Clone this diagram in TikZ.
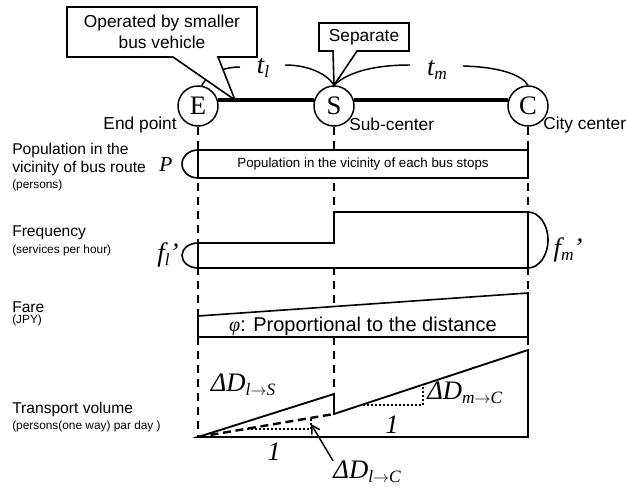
\documentclass[tikz,border=0pt]{standalone}
\usepackage{fontspec}
\setmainfont{Liberation Sans}
\newfontfamily\tnr{Liberation Serif}
\usetikzlibrary{arrows.meta,calc}
\newcommand{\lowsub}[1]{\raisebox{-3pt}{\fontsize{13}{13}\selectfont #1}}

\begin{document}
\begin{tikzpicture}[x=0.75pt,y=-0.75pt,
    lbl/.style={anchor=west,inner sep=0pt,font=\fontsize{11.7}{14}\selectfont},
    unit/.style={anchor=west,inner sep=0pt,font=\fontsize{8.9}{10}\selectfont},
    place/.style={inner sep=0pt,font=\fontsize{13}{15.75}\selectfont},
    stn/.style={circle,draw,line width=1.1pt,fill=white,minimum size=30pt,inner sep=0pt,
                font=\tnr\fontsize{20}{20}\selectfont},
    var/.style={inner sep=0pt,font=\tnr\itshape\fontsize{20}{20}\selectfont},
    guide/.style={line width=1.8pt,dash pattern=on 6.5pt off 4pt},
    bar/.style={draw,line width=1.2pt,fill=white},
    slope/.style={line width=1.6pt,dash pattern=on 1.5pt off 1.5pt}]
  \useasboundingbox (0,0) rectangle (626,488);
  % Bus route
  \foreach \n/\x in {E/198,S/334,C/528}{
    \node[stn] (\n) at (\x,106) {\n};
  }
  \draw[line width=3.5pt] (E.17)--(S.163);
  \draw[line width=3.5pt] (S.17)--(C.163);
  \node[place,anchor=east] (Elbl) at (177,125) {End point};
  \node[place,anchor=west] (Slbl) at (349,124) {Sub-center};
  \node[place,anchor=west] (Clbl) at (543,125) {City center};
  % Travel times
  \node[var] (tl) at (263,68) {t\lowsub{l}};
  \node[var] (tm) at (437,70) {t\lowsub{m}};
  \coordinate (tlL) at (240,67);
  \coordinate (tlR) at (285,65);
  \coordinate (tmL) at (410,65);
  \coordinate (tmR) at (463,66);
  \draw[line width=1.1pt] (E.80) .. controls (210,72) and (225,67) .. (tlL);
  \draw[line width=1.1pt] (tlR) .. controls (310,65) and (328,75) .. (S.north);
  \draw[line width=1.1pt] (S.north) .. controls (350,70) and (380,65) .. (tmL);
  \draw[line width=1.1pt] (tmR) .. controls (500,67) and (522,75) .. (C.north);
  % Callouts
  \coordinate (opTip) at (235,100);
  \filldraw[fill=white,line width=1.2pt] (67,7)--(257,7)--(257,57)--(218,57)--(opTip)
    --(173,57)--(67,57)--cycle;
  \node[place,align=center] (op) at (162,32) {Operated by smaller\\bus vehicle};
  \filldraw[fill=white,line width=1.2pt] (319,23)--(409,23)--(409,51)--(357,51)--(S.north)
    --(333,51)--(319,51)--cycle;
  \node[place] (sep) at (364,37) {Separate};
  % Transport volume points
  \coordinate (o) at (198,437);
  \coordinate (sa) at (334,394);
  \coordinate (sv) at (334,414);
  \coordinate (ca) at (528,350);
  \coordinate (cb) at (528,437);
  \draw[guide] (S.south)--(sv);
  % Population
  \draw[bar] (198,150) rectangle (528,178);
  \node[font=\fontsize{10}{12}\selectfont] (ptxt) at (363,164)
    {Population in the vicinity of each bus stops};
  \draw[line width=1.2pt] (198,150) .. controls (189.2,150) and (182,156.3) .. (182,164)
    .. controls (182,171.7) and (189.2,178) .. (198,178);
  \node[var,font=\tnr\itshape\fontsize{16}{16}\selectfont] (P) at (166,165) {P};
  % Frequency
  \draw[bar] (198,243)--(334,243)--(334,212)--(528,212)--(528,268)--(198,268)--cycle;
  \draw[line width=1.2pt] (198,243) .. controls (189.2,243) and (182,248.6) .. (182,255.5)
    .. controls (182,262.4) and (189.2,268) .. (198,268);
  \draw[line width=1.2pt] (528,212) .. controls (539,212) and (548,224.5) .. (548,240)
    .. controls (548,255.5) and (539,268) .. (528,268);
  \node[var] (fl) at (168,255) {f\lowsub{l}’};
  \node[var] (fm) at (568,250) {f\lowsub{m}’};
  % Fare
  \draw[bar] (198,316)--(528,293)--(528,337)--(198,337)--cycle;
  \node[font=\fontsize{15}{17}\selectfont] (phi) at (363,326)
    {{\tnr\itshape φ}: Proportional to the distance};
  % Transport volume
  \draw[line width=1.4pt] (o)--(sa)--(sv)--(ca)--(cb)--cycle;
  \draw[line width=1.8pt,dash pattern=on 6pt off 3.5pt] (o)--(sv);
  \draw[slope] (247,429)--(311,429)--(311,418);
  \draw[slope] (363,405)--(423,405)--(423,385);
  \node[var] (dls) at (243,385) {ΔD\lowsub{l$\rightarrow$S}};
  \node[var,anchor=west] (dmc) at (427,393) {ΔD\lowsub{m$\rightarrow$C}};
  \node[var] (dlc) at (367,472) {ΔD\lowsub{l$\rightarrow$C}};
  \node[var] (one1) at (274,452) {1};
  \node[var] (one2) at (392,425) {1};
  \coordinate (dtip) at (311,424);
  \draw[line width=1.1pt,-{Straight Barb[length=6pt,width=7pt]}] (dlc.north west)--(dtip);
  \foreach \n in {E,C}{
    \draw[guide] (\n.south)--(\n.south |- o);
  }
  % Row labels
  \node[lbl] (popA) at (12,150) {Population in the};
  \node[lbl] (popB) at (12,168) {vicinity of bus route};
  \node[unit] (popU) at (12,185) {(persons)};
  \node[lbl] (freqA) at (12,233) {Frequency};
  \node[unit] (freqU) at (12,250) {(services per hour)};
  \node[lbl] (fareA) at (12,307) {Fare};
  \node[unit] (fareU) at (12,320) {(JPY)};
  \node[lbl] (tvA) at (12,409) {Transport volume};
  \node[unit] (tvU) at (12,426) {(persons(one way) par day )};
\end{tikzpicture}
\end{document}
